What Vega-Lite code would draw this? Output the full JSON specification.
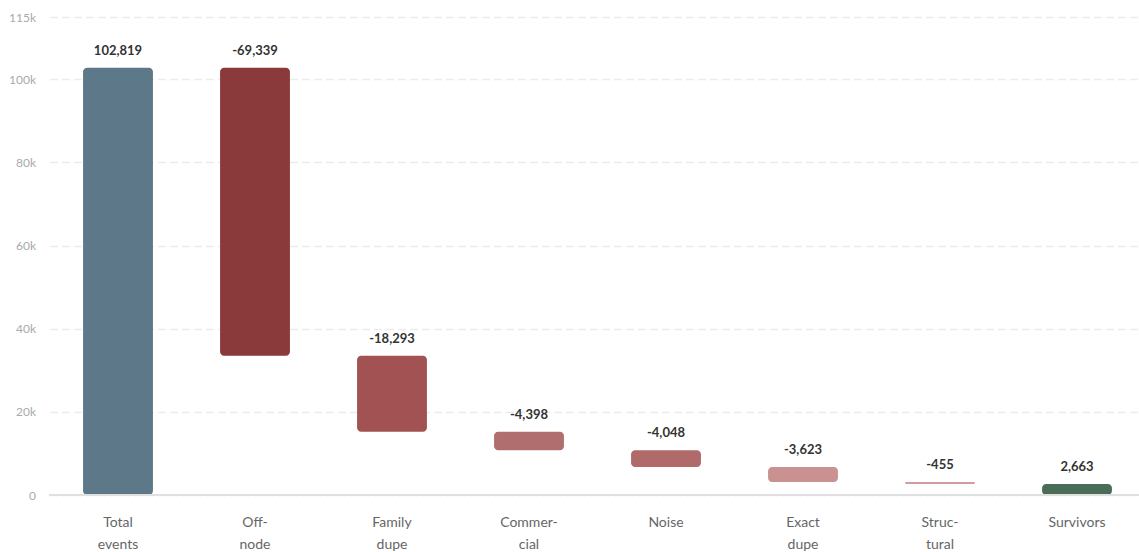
{
  "$schema": "https://vega.github.io/schema/vega-lite/v6.json",
  "width": 1096,
  "height": 478,
  "autosize": "none",
  "padding": {"left": 49.5, "top": 17, "right": 0, "bottom": 57},
  "background": "white",
  "config": {"view": {"stroke": null}, "font": "Lato"},
  "data": {"values": [
    {"step": "Total\nevents", "start": 0, "end": 102819, "top": 102819, "label": "102,819", "kind": "total"},
    {"step": "Off-\nnode", "start": 102819, "end": 33480, "top": 102819, "label": "-69,339", "kind": "off"},
    {"step": "Family\ndupe", "start": 33480, "end": 15187, "top": 33480, "label": "-18,293", "kind": "family"},
    {"step": "Commer-\ncial", "start": 15187, "end": 10789, "top": 15187, "label": "-4,398", "kind": "commercial"},
    {"step": "Noise", "start": 10789, "end": 6741, "top": 10789, "label": "-4,048", "kind": "noise"},
    {"step": "Exact\ndupe", "start": 6741, "end": 3118, "top": 6741, "label": "-3,623", "kind": "exact"},
    {"step": "Struc-\ntural", "start": 3118, "end": 2663, "top": 3118, "label": "-455", "kind": "structural"},
    {"step": "Survivors", "start": 0, "end": 2663, "top": 2663, "label": "2,663", "kind": "survivors"}
  ]},
  "encoding": {
    "x": {
      "field": "step", "type": "nominal", "sort": null,
      "scale": {"paddingInner": 0.49, "paddingOuter": 0.245},
      "axis": {
        "title": null, "labelAngle": 0, "domain": false, "ticks": false,
        "labelExpr": "split(datum.label, '\\n')",
        "labelFontSize": 14, "labelColor": "#666", "labelPadding": 27,
        "labelLineHeight": 22, "labelFont": "Lato", "labelBaseline": "middle"
      }
    }
  },
  "layer": [
    {
      "mark": {"type": "bar", "cornerRadius": 4},
      "encoding": {
        "y": {
          "field": "start", "type": "quantitative",
          "scale": {"domain": [0, 115000], "nice": false},
          "axis": {
            "title": null, "values": [0, 20000, 40000, 60000, 80000, 100000, 115000],
            "labelExpr": "datum.value == 0 ? '0' : (datum.value / 1000) + 'k'",
            "domain": false, "ticks": false, "labelPadding": 14,
            "labelFontSize": 12, "labelColor": "#aaa", "labelFont": "Lato",
            "grid": true, "gridColor": "#ececec", "gridDash": [8, 4], "gridWidth": 1.5
          }
        },
        "y2": {"field": "end"},
        "color": {
          "field": "kind", "type": "nominal", "legend": null,
          "scale": {
            "domain": ["total", "off", "family", "commercial", "noise", "exact", "structural", "survivors"],
            "range": ["#5d7888", "#8b3a3b", "#a35253", "#b06f6e", "#b06a6a", "#c99190", "#d39b9b", "#4a6d57"]
          }
        }
      }
    },
    {
      "mark": {"type": "rule", "color": "#e0e0e0", "strokeWidth": 2},
      "encoding": {"y": {"datum": 0}, "x": null}
    },
    {
      "mark": {"type": "text", "fontSize": 13, "fontWeight": "bold", "color": "#333", "baseline": "alphabetic", "dy": -13},
      "encoding": {
        "y": {"field": "top", "type": "quantitative"},
        "text": {"field": "label"}
      }
    }
  ]
}
